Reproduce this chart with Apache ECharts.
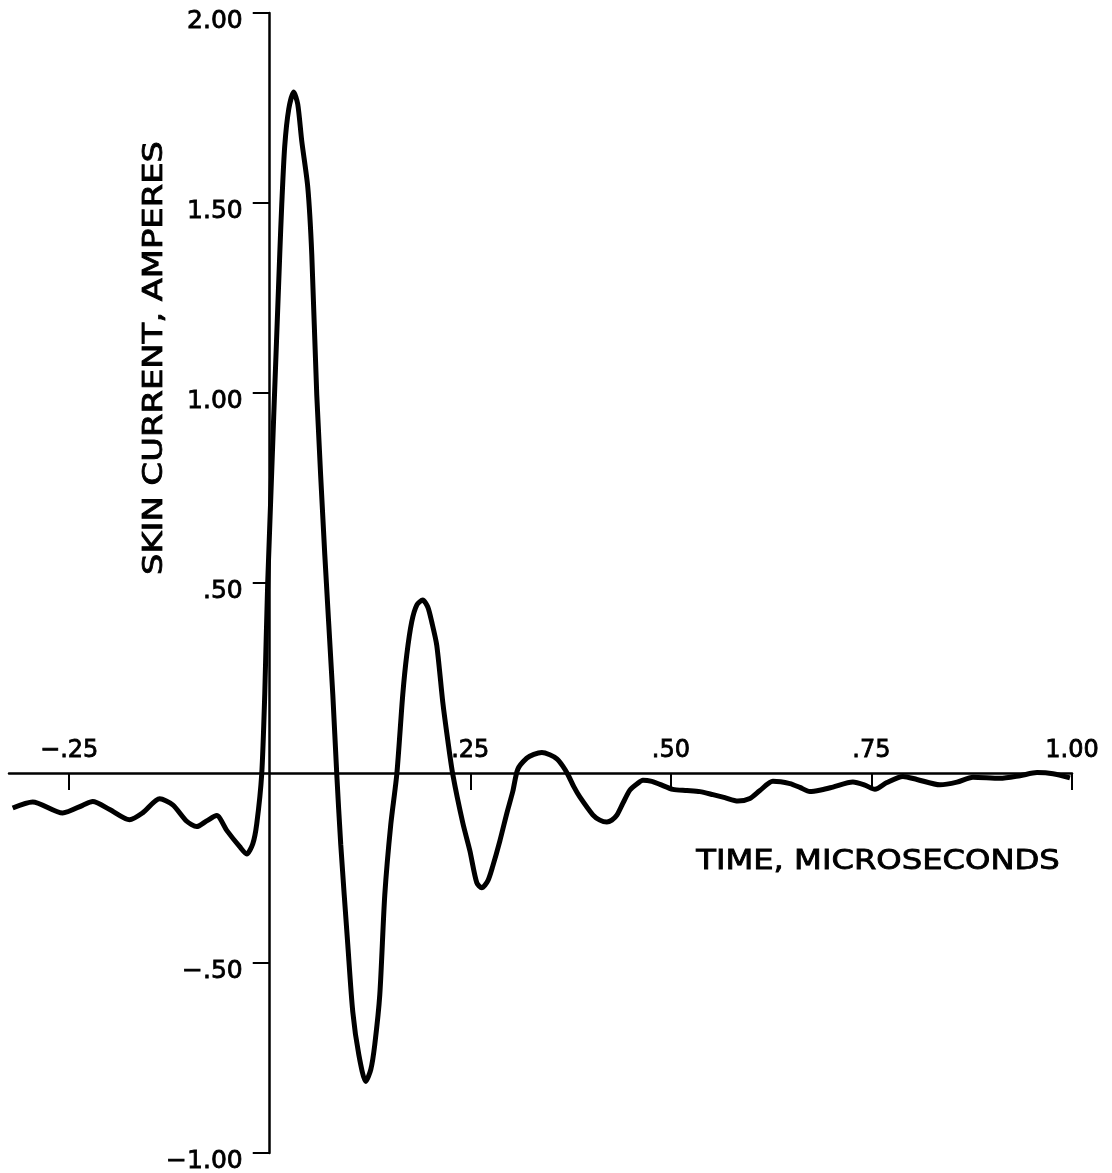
<!DOCTYPE html>
<html>
<head>
<meta charset="utf-8">
<script src="https://cdn.jsdelivr.net/npm/echarts@6/dist/echarts.min.js"></script>
<style>
  html, body { margin: 0; padding: 0; background: #fff; }
  #chart { width: 1112px; height: 1173px; }
</style>
</head>
<body>
<div id="chart"></div>
<script>
// time in microseconds, skin current in amperes
var timeUs = [
  -0.3204, -0.2955, -0.2581, -0.2332, -0.2207, -0.1995, -0.1746, -0.1584, -0.1372, -0.1209,
  -0.1035, -0.0910, -0.0786, -0.0661, -0.0536, -0.0374, -0.0287, -0.0212, -0.0162, -0.0100,
  -0.0062, -0.0025, 0.0125, 0.0150, 0.0187, 0.0237, 0.0299, 0.0349, 0.0399, 0.0474,
  0.0524, 0.0586, 0.0686, 0.0786, 0.0835, 0.0885, 0.0973, 0.1035, 0.1110, 0.1197,
  0.1260, 0.1309, 0.1372, 0.1434, 0.1509, 0.1584, 0.1658, 0.1708, 0.1770, 0.1833,
  0.1908, 0.1970, 0.2020, 0.2082, 0.2157, 0.2220, 0.2282, 0.2406, 0.2494, 0.2581,
  0.2643, 0.2718, 0.2780, 0.2868, 0.2955, 0.3030, 0.3092, 0.3204, 0.3292, 0.3392,
  0.3491, 0.3579, 0.3653, 0.3716, 0.3790, 0.3865, 0.4027, 0.4115, 0.4202, 0.4264,
  0.4327, 0.4401, 0.4489, 0.4576, 0.4651, 0.4763, 0.4863, 0.5025, 0.5200, 0.5362,
  0.5524, 0.5673, 0.5835, 0.5985, 0.6110, 0.6272, 0.6484, 0.6608, 0.6733, 0.6883,
  0.7020, 0.7269, 0.7419, 0.7544, 0.7693, 0.7893, 0.8067, 0.8354, 0.8566, 0.8766,
  0.9102, 0.9352, 0.9564, 0.9763, 0.9975
];
var skinCurrent = [
  -0.092, -0.076, -0.105, -0.085, -0.075, -0.096, -0.123, -0.105, -0.068, -0.084,
  -0.127, -0.141, -0.126, -0.112, -0.151, -0.194, -0.213, -0.187, -0.134, -0.003,
  0.208, 0.503, 1.366, 1.497, 1.650, 1.747, 1.792, 1.760, 1.663, 1.542,
  1.365, 0.996, 0.575, 0.207, -0.001, -0.188, -0.452, -0.628, -0.741, -0.812,
  -0.780, -0.715, -0.583, -0.321, -0.135, -0.003, 0.206, 0.311, 0.398, 0.442,
  0.455, 0.437, 0.397, 0.336, 0.186, 0.085, -0.004, -0.131, -0.204, -0.289,
  -0.302, -0.284, -0.245, -0.179, -0.106, -0.048, 0.010, 0.039, 0.049, 0.054,
  0.048, 0.037, 0.018, -0.004, -0.036, -0.063, -0.110, -0.124, -0.129, -0.124,
  -0.111, -0.080, -0.045, -0.029, -0.019, -0.022, -0.030, -0.043, -0.046, -0.049,
  -0.057, -0.065, -0.074, -0.067, -0.046, -0.022, -0.028, -0.038, -0.049, -0.044,
  -0.037, -0.024, -0.032, -0.043, -0.025, -0.009, -0.017, -0.031, -0.024, -0.011,
  -0.014, -0.007, 0.001, -0.002, -0.013
];

var xTicks = [-0.25, 0.25, 0.5, 0.75, 1.0];
var xTickLabels = ['\u2212.25', '.25', '.50', '.75', '1.00'];
var yTicks = [2.0, 1.5, 1.0, 0.5, -0.5, -1.0];
var yTickLabels = ['2.00', '1.50', '1.00', '.50', '\u2212.50', '\u22121.00'];

var xMin = -0.325, xMax = 1.0, yMin = -1.0, yMax = 2.0;

var points = timeUs.map(function (t, i) { return [t, skinCurrent[i]]; });

function labelFor(ticks, labels) {
  return function (v) {
    for (var i = 0; i < ticks.length; i++) {
      if (Math.abs(ticks[i] - v) < 1e-6) return labels[i];
    }
    return '';
  };
}

// grid box; the two axes are moved onto the origin with offsets
var W = 1112, H = 1173;
var gLeft = 9, gRight = 40, gTop = 13, gBottom = 20;
var gW = W - gLeft - gRight, gH = H - gTop - gBottom;
var yAxisOffset = -gW * (0 - xMin) / (xMax - xMin);
var xAxisOffset = -gH * (0 - yMin) / (yMax - yMin);

var font = 'DejaVu Sans';
var myChart = echarts.init(document.getElementById('chart'));

var option = {
  backgroundColor: '#fff',
  animation: false,
  grid: {
    left: gLeft, right: gRight, top: gTop, bottom: gBottom,
    containLabel: false,
    outerBoundsMode: 'none'
  },
  xAxis: {
    type: 'value',
    min: xMin,
    max: xMax,
    position: 'bottom',
    offset: xAxisOffset,
    splitLine: { show: false },
    axisLine: { onZero: false, lineStyle: { color: '#000', width: 2.5 } },
    axisTick: {
      show: true, inside: false, length: 17, customValues: xTicks,
      lineStyle: { color: '#000', width: 2 }
    },
    axisLabel: {
      inside: true, margin: 10, customValues: xTicks,
      formatter: labelFor(xTicks, xTickLabels),
      color: '#000', fontFamily: font, fontSize: 24,
      textBorderColor: '#000', textBorderWidth: 0.8
    }
  },
  yAxis: {
    type: 'value',
    min: yMin,
    max: yMax,
    interval: 0.5,
    position: 'left',
    offset: yAxisOffset,
    splitLine: { show: false },
    axisLine: { onZero: false, lineStyle: { color: '#000', width: 2.5 } },
    axisTick: {
      show: true, inside: false, length: 17, customValues: yTicks,
      lineStyle: { color: '#000', width: 2 }
    },
    axisLabel: {
      margin: 27, customValues: yTicks,
      formatter: labelFor(yTicks, yTickLabels),
      verticalAlign: 'top',
      lineHeight: 16,
      color: '#000', fontFamily: font, fontSize: 25,
      textBorderColor: '#000', textBorderWidth: 0.8
    }
  },
  graphic: [
    {
      type: 'text',
      x: 155, y: 358,
      rotation: Math.PI / 2,
      scaleX: 1.3,
      style: {
        text: 'SKIN CURRENT, AMPERES',
        font: '26px "DejaVu Sans"',
        fill: '#000',
        stroke: '#000',
        lineWidth: 0.8,
        align: 'center',
        verticalAlign: 'middle'
      }
    },
    {
      type: 'text',
      x: 878, y: 862,
      scaleX: 1.24,
      style: {
        text: 'TIME, MICROSECONDS',
        font: '26px "DejaVu Sans"',
        fill: '#000',
        stroke: '#000',
        lineWidth: 0.8,
        align: 'center',
        verticalAlign: 'middle'
      }
    }
  ],
  series: [
    {
      type: 'line',
      data: points,
      smooth: 0.25,
      showSymbol: false,
      symbol: 'none',
      lineStyle: { color: '#000', width: 5 },
      z: 3
    }
  ]
};

myChart.setOption(option);
</script>
</body>
</html>
